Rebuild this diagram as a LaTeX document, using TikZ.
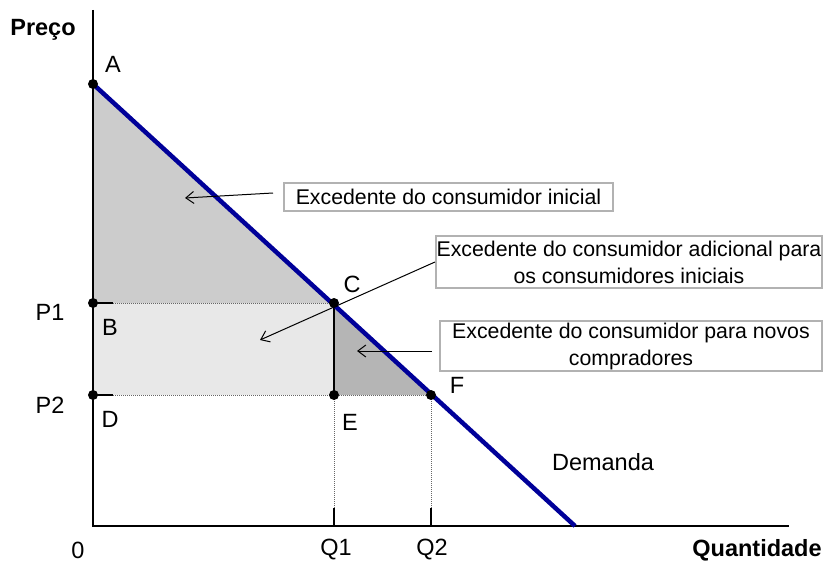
\documentclass[tikz,border=0pt]{standalone}
\usepackage{fontspec}
\setmainfont{Liberation Sans}
\usetikzlibrary{arrows.meta}
\definecolor{dblue}{RGB}{0,0,153}
\begin{document}
\begin{tikzpicture}[x=1pt,y=-1pt,
  lbl/.style={font=\fontsize{23.5}{28}\selectfont, inner sep=0pt},
  blbl/.style={font=\fontsize{23.5}{28}\selectfont\bfseries, inner sep=0pt},
  box/.style={draw=black!30, line width=2pt, fill=white, align=center, font=\fontsize{21.3}{27}\selectfont, inner sep=0pt},
  ptr/.style={-{Straight Barb[length=8pt,width=12pt]}, line width=1pt},
  guide/.style={draw=black!60, line width=1pt, dash pattern=on 1pt off 1pt},
  dot/.style={circle, fill=black, inner sep=0pt, minimum size=10pt}
]
\useasboundingbox (0,0) rectangle (827,564);
\coordinate (O) at (93,526);
\coordinate (Ytop) at (93,10);
\coordinate (Xend) at (789,526);
\coordinate (A) at (93,84);
\coordinate (B) at (93,303);
\coordinate (C) at (334,303);
\coordinate (D) at (93,395);
\coordinate (E) at (334,395);
\coordinate (F) at (431,395);
\coordinate (Dm) at (575,526);
\coordinate (Q1) at (334,526);
\coordinate (Q2) at (431,526);
% shaded areas
\fill[black!20] (A) -- (B) -- (C) -- cycle;
\fill[black!9] (B) -- (C) -- (E) -- (D) -- cycle;
\fill[black!29] (C) -- (E) -- (F) -- cycle;
% guides
\draw[guide] (B) -- (C);
\draw[guide] (D) -- (F);
\draw[guide] (E) -- (Q1);
\draw[guide] (F) -- (Q2);
\draw[line width=1.4pt] (B) -- ++(20,0);
\draw[line width=1.4pt] (D) -- ++(20,0);
\draw[line width=1.2pt] (C) -- (E);
\draw[line width=1.5pt] (Q1) -- ++(0,-18);
\draw[line width=1.5pt] (Q2) -- ++(0,-18);
% axes
\draw[line width=2pt] (Ytop) -- (O) -- (Xend);
% demand
\draw[line width=4.5pt, dblue] (A) -- (Dm);
% dots
\foreach \p in {A,B,C,D,E,F} \node[dot] at (\p) {};
% labels
\node[blbl] (lpreco) at (43,30) {Preço};
\node[lbl] (la) at (113,64) {A};
\node[lbl] (lp1) at (50,312) {P1};
\node[lbl] (lb) at (110,327) {B};
\node[lbl] (lp2) at (50,405) {P2};
\node[lbl] (ld) at (110,419) {D};
\node[lbl] (lc) at (352,284) {C};
\node[lbl] (le) at (350,422) {E};
\node[lbl] (lf) at (457,385) {F};
\node[lbl] (ldem) at (603,462) {Demanda};
\node[lbl] (l0) at (78,550) {0};
\node[lbl] (lq1) at (336,550) {Q1};
\node[lbl] (lq2) at (432,550) {Q2};
\node[blbl] (lqt) at (757,550) {Quantidade};
% boxes
\node[box, minimum width=329pt, minimum height=28pt] (b1) at (448.5,197) {Excedente do consumidor inicial};
\node[box, minimum width=386pt, minimum height=52pt] (b2) at (629,262) {Excedente do consumidor adicional para\\os consumidores iniciais};
\node[box, minimum width=382pt, minimum height=50pt] (b3) at (631,346) {Excedente do consumidor para novos\\compradores};
% pointers
\coordinate (t1) at (185,198);
\coordinate (t2) at (260,340);
\coordinate (t3) at (357,351);
\draw[ptr] ([xshift=-10pt,yshift=4pt]b1.west) -- (t1);
\draw[ptr] (b2.west) -- (t2);
\draw[ptr] ([xshift=-7pt,yshift=-5pt]b3.west) -- (t3);
\end{tikzpicture}
\end{document}
